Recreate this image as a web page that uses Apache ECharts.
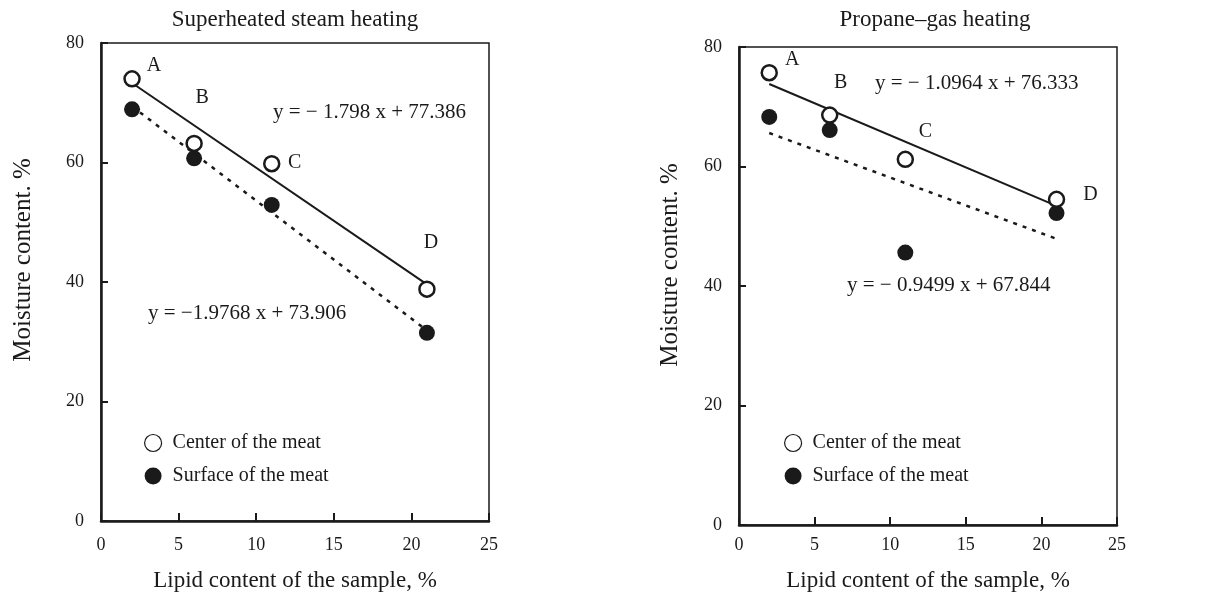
<!DOCTYPE html>
<html>
<head>
<meta charset="utf-8">
<script src="https://cdn.jsdelivr.net/npm/echarts@6/dist/echarts.min.js"></script>
<style>
  html, body { margin: 0; padding: 0; background: #fff; }
  #chart { width: 1213px; height: 594px; }
</style>
</head>
<body>
<div id="chart"></div>
<script>
// sample lipid contents (x) and point names
const lipid = [2, 6, 11, 21];
const sampleNames = ['A', 'B', 'C', 'D'];

// moisture content, %
const steamCenter = [74.0, 63.2, 59.8, 38.8];
const steamSurface = [68.9, 60.7, 52.9, 31.5];
const propaneCenter = [75.7, 68.6, 61.2, 54.5];
const propaneSurface = [68.3, 66.1, 45.6, 52.2];

// regression lines, read at the two ends
const fitX = [2, 21];
const steamCenterFit = [73.3, 39.6];
const steamSurfaceFit = [69.4, 31.9];
const propaneCenterFit = [73.8, 53.4];
const propaneSurfaceFit = [65.6, 47.9];

const xTicks = [0, 5, 10, 15, 20, 25];
const yTicks = [0, 20, 40, 60, 80];

const equations = [
  'y = − 1.798 x + 77.386',
  'y = −1.9768 x + 73.906',
  'y = − 1.0964 x + 76.333',
  'y = − 0.9499 x + 67.844'
];

const FONT = '"Liberation Serif", "DejaVu Serif", serif';
const INK = '#1a1a1a';

// letter label offsets (px) for each panel
const steamLabelOffsets = [[22, -13], [8, -46], [23, -1], [4, -46]];
const propaneLabelOffsets = [[23, -13], [11, -32], [20, -28], [34, -5]];

function pts(vals, offsets) {
  return vals.map((v, i) => {
    const item = { value: [lipid[i], v] };
    if (offsets) {
      item.label = {
        show: true, formatter: sampleNames[i], position: 'inside',
        offset: offsets[i], color: INK, fontFamily: FONT, fontSize: 20
      };
    }
    return item;
  });
}
function line(vals) {
  return fitX.map((x, i) => [x, vals[i]]);
}

function xAxisFor(idx, labelMargin, nameGap) {
  return {
    gridIndex: idx, type: 'value', min: 0, max: 25, interval: 5,
    name: 'Lipid content of the sample, %', nameLocation: 'middle', nameGap: nameGap,
    nameTextStyle: { color: INK, fontFamily: FONT, fontSize: 23 },
    axisLine: { lineStyle: { color: INK, width: 2.5 } },
    axisTick: { inside: true, length: 8, lineStyle: { width: 2, color: INK } },
    axisLabel: { color: INK, fontFamily: FONT, fontSize: 18, margin: labelMargin,
      formatter: v => xTicks.includes(v) ? String(v) : '' },
    splitLine: { show: false }
  };
}
function yAxisFor(idx) {
  return {
    gridIndex: idx, type: 'value', min: 0, max: 80, interval: 20,
    axisLine: { lineStyle: { color: INK, width: 2.5 } },
    axisTick: { inside: true, length: 7, lineStyle: { width: 2, color: INK } },
    axisLabel: { color: INK, fontFamily: FONT, fontSize: 18, margin: 17,
      formatter: v => yTicks.includes(v) ? String(v) : '' },
    splitLine: { show: false }
  };
}

const openStyle = { color: '#fff', borderColor: INK, borderWidth: 2.5, opacity: 1 };
const fillStyle = { color: INK, opacity: 1 };

function panelSeries(idx, center, surface, cFit, sFit, offsets) {
  return [
    { name: 'fit-c' + idx, type: 'line', xAxisIndex: idx, yAxisIndex: idx, data: line(cFit),
      symbol: 'none', lineStyle: { color: INK, width: 2 }, silent: true, z: 1 },
    { name: 'fit-s' + idx, type: 'line', xAxisIndex: idx, yAxisIndex: idx, data: line(sFit),
      symbol: 'none', lineStyle: { color: INK, width: 2.5, type: [4, 6] }, silent: true, z: 1 },
    { name: 'Surface of the meat', type: 'scatter', xAxisIndex: idx, yAxisIndex: idx,
      data: pts(surface), symbolSize: 16, itemStyle: fillStyle, z: 3 },
    { name: 'Center of the meat', type: 'scatter', xAxisIndex: idx, yAxisIndex: idx,
      data: pts(center, offsets), symbolSize: 15, itemStyle: openStyle, z: 4 }
  ];
}

function legendAt(left) {
  return {
    data: [
      { name: 'Center of the meat', itemStyle: { color: '#fff', borderColor: INK, borderWidth: 1.2, opacity: 1 } },
      { name: 'Surface of the meat', itemStyle: { color: INK, opacity: 1 } }
    ],
    orient: 'vertical', left: left, top: 428, itemGap: 13,
    itemWidth: 17, itemHeight: 17, icon: 'circle', selectedMode: false,
    textStyle: { color: INK, fontFamily: FONT, fontSize: 20, padding: [0, 0, 0, 6] }
  };
}

function eqText(text, x, y) {
  return { type: 'text', left: x, top: y,
    style: { text: text, fill: INK, font: '21px ' + FONT } };
}
function yName(x, y) {
  return { type: 'text', x: x, y: y, rotation: Math.PI / 2,
    style: { text: 'Moisture content. %', fill: INK, font: '25px ' + FONT,
      align: 'center', verticalAlign: 'middle' } };
}

const chart = echarts.init(document.getElementById('chart'));
chart.setOption({
  backgroundColor: '#fff',
  animation: false,
  title: [
    { text: 'Superheated steam heating', left: 290, top: 3, textAlign: 'center',
      textStyle: { color: INK, fontFamily: FONT, fontSize: 23, fontWeight: 'normal' } },
    { text: 'Propane–gas heating', left: 930, top: 3, textAlign: 'center',
      textStyle: { color: INK, fontFamily: FONT, fontSize: 23, fontWeight: 'normal' } }
  ],
  grid: [
    { left: 101, top: 43, width: 388, height: 478, show: true, borderColor: INK, borderWidth: 1.5,
      outerBoundsMode: 'none', containLabel: false },
    { left: 739, top: 47, width: 378, height: 478, show: true, borderColor: INK, borderWidth: 1.5,
      outerBoundsMode: 'none', containLabel: false }
  ],
  xAxis: [xAxisFor(0, 15, 48), xAxisFor(1, 11, 44)],
  yAxis: [yAxisFor(0), yAxisFor(1)],
  legend: [legendAt(139), legendAt(779)],
  series: [
    ...panelSeries(0, steamCenter, steamSurface, steamCenterFit, steamSurfaceFit, steamLabelOffsets),
    ...panelSeries(1, propaneCenter, propaneSurface, propaneCenterFit, propaneSurfaceFit, propaneLabelOffsets)
  ],
  graphic: [
    yName(23, 260),
    yName(670, 265),
    eqText(equations[0], 273, 102),
    eqText(equations[1], 148, 303),
    eqText(equations[2], 875, 73),
    eqText(equations[3], 847, 275)
  ]
});
window.addEventListener('resize', () => chart.resize());
</script>
</body>
</html>
